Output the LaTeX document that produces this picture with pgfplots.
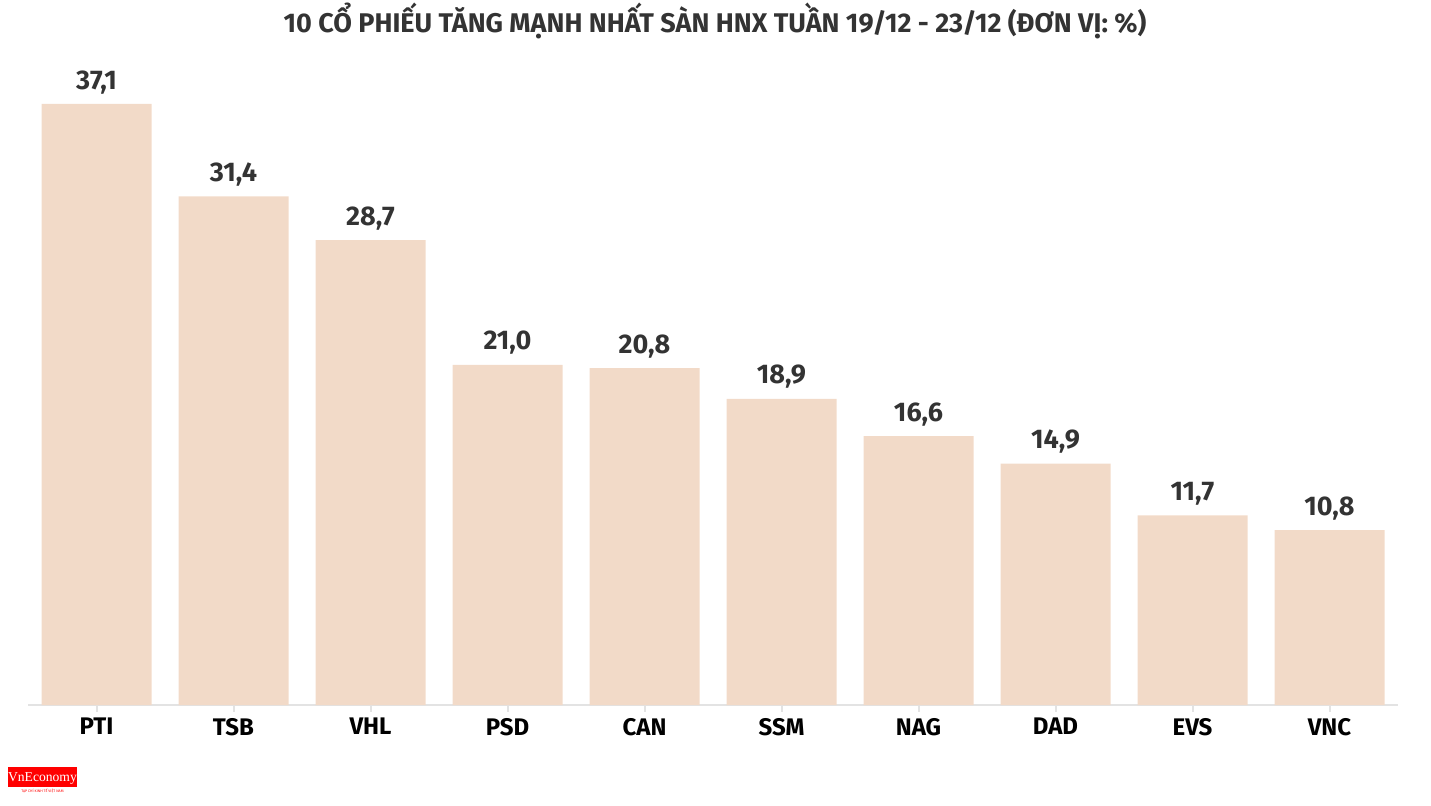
\documentclass[border=0pt]{standalone}
\usepackage{pgfplots}
\pgfplotsset{compat=1.18}
\usepackage{fontspec}
\setmainfont{Fira Sans}
\newfontfamily\logofont{Liberation Serif}
\definecolor{barfill}{HTML}{F2DAC8}
\definecolor{txt}{HTML}{333333}
\definecolor{axisgray}{HTML}{E3E3E3}
\definecolor{logored}{HTML}{FF0000}

\begin{document}
\begin{tikzpicture}
    % 1 px of the reference = 0.5pt
    \useasboundingbox (-14pt,-50pt) rectangle (701.5pt,352.5pt);
    \begin{axis}[
        scale only axis,
        width=685pt, height=300.5pt,
        xmin=-0.5, xmax=9.5,
        ymin=0, ymax=37.1,
        axis x line*=bottom,
        axis y line=none,
        axis line style={draw=axisgray, line width=1pt, -},
        xtick={0,...,9},
        xticklabels={PTI,TSB,VHL,PSD,CAN,SSM,NAG,DAD,EVS,VNC},
        xticklabel style={font=\bfseries\fontsize{12}{14}\selectfont, text=black, yshift=0.5pt},
        major tick length=3.5pt,
        xtick style={draw=axisgray, line width=1pt},
        xtick align=outside,
        ytick=\empty,
        clip=false,
        ybar, bar width=55pt,
        nodes near coords={\pgfmathprintnumber[fixed, fixed zerofill, precision=1, use comma, assume math mode=true]{\pgfplotspointmeta}},
        nodes near coords style={font=\bfseries\fontsize{13.5}{16}\selectfont, text=txt, anchor=south, yshift=1.5pt},
    ]
    \addplot[fill=barfill, draw=none, bar shift=0pt] coordinates {
        (0,37.1) (1,31.4) (2,28.7) (3,21.0) (4,20.8)
        (5,18.9) (6,16.6) (7,14.9) (8,11.7) (9,10.8)
    };
    \end{axis}
    \node[font=\bfseries\fontsize{13.5}{16}\selectfont, text=txt] at (343.5pt,342pt)
        {10 CỔ PHIẾU TĂNG MẠNH NHẤT SÀN HNX TUẦN 19/12 - 23/12 (ĐƠN VỊ: \%)};
    \fill[logored] (-10pt,-41pt) rectangle (24.5pt,-31pt);
    \node[text=white, font=\logofont\fontsize{6.8}{8}\selectfont, inner sep=0pt] at (7.25pt,-36.6pt) {VnEconomy};
    \node[text=logored, font=\fontsize{1.8}{2}\selectfont, inner sep=0pt] at (7.25pt,-43pt) {TẠP CHÍ KINH TẾ VIỆT NAM};
\end{tikzpicture}
\end{document}
